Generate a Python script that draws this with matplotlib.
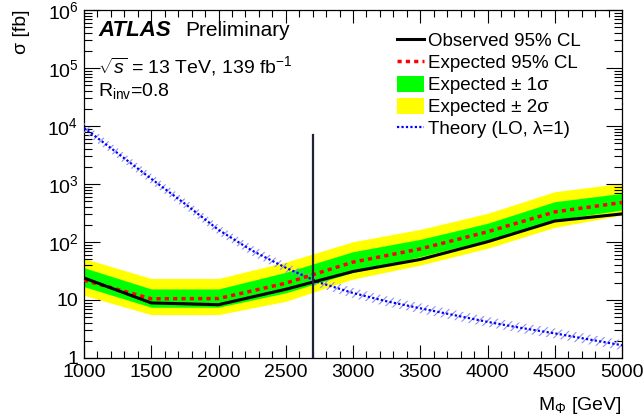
import numpy as np
import matplotlib
matplotlib.use("Agg")
import matplotlib.pyplot as plt
import matplotlib.ticker as mticker
from matplotlib.lines import Line2D
from matplotlib.patches import Patch

plt.rcParams['font.family'] = ['Liberation Sans', 'DejaVu Sans']
plt.rcParams['mathtext.fontset'] = 'custom'
plt.rcParams['mathtext.rm'] = 'Liberation Sans'
plt.rcParams['mathtext.it'] = 'Liberation Sans:italic'
plt.rcParams['mathtext.bf'] = 'Liberation Sans:bold'
plt.rcParams['hatch.linewidth'] = 0.8

# limit points (GeV, fb)
mass = [1000, 1500, 2000, 2500, 3000, 3500, 4000, 4500, 5000]
observed = [24, 8.9, 8.3, 15.3, 31, 50, 101, 230, 305]
expected = [22, 10.5, 10.6, 19.5, 45, 76, 150, 330, 480]
exp_1s_up = [36, 15.5, 15.5, 30, 68, 111, 210, 495, 690]
exp_1s_dn = [17, 7.5, 7.5, 13.3, 30, 56, 108, 240, 356]
exp_2s_up = [52, 23.5, 23.5, 45, 101, 165, 312, 736, 1030]
exp_2s_dn = [12, 5.6, 5.6, 9.5, 23, 40, 78, 179, 292]

# theory curve (LO, lambda=1)
theory_mass = [1000, 1250, 1500, 1750, 2000, 2250, 2500, 2750, 3000, 3250,
               3500, 3750, 4000, 4250, 4500, 4750, 5000]
theory_xsec = [9300, 3400, 1230, 457, 162, 71, 36, 20, 13.2, 9.5,
               7.2, 5.5, 4.2, 3.3, 2.66, 2.1, 1.66]
theory_unc = 1.22

excl_mass = 2700
excl_ymax = 7000

fig = plt.figure(figsize=(6.44, 4.18), dpi=100)
ax = fig.add_axes([84/644, 1-358/418, 538/644, 348/418])

ax.fill_between(mass, exp_2s_dn, exp_2s_up, color='#ffff00', lw=0, zorder=1)
ax.fill_between(mass, exp_1s_dn, exp_1s_up, color='#00ff00', lw=0, zorder=2)
th = np.array(theory_xsec)
ax.fill_between(theory_mass, th/theory_unc, th*theory_unc, facecolor='none',
                edgecolor='#9090f0', hatch='////', lw=0, zorder=3)
ax.plot(theory_mass, theory_xsec, color='#0000ff', lw=1.6, ls=(0, (1, 1)), zorder=4)
ax.plot(mass, expected, color='#ff0000', lw=2.5, ls=(0, (1.2, 1.2)), zorder=5)
ax.plot(mass, observed, color='black', lw=2.2, zorder=6)
ax.plot([excl_mass, excl_mass], [1, excl_ymax], color='#1e2435', lw=1.6, zorder=7)

ax.set_xlim(1000, 5000)
ax.set_ylim(1, 1e6)
ax.set_yscale('log')
ax.xaxis.set_major_locator(mticker.MultipleLocator(500))
ax.xaxis.set_minor_locator(mticker.MultipleLocator(100))
ax.yaxis.set_major_locator(mticker.LogLocator(base=10, numticks=10))
ax.yaxis.set_minor_locator(mticker.LogLocator(base=10, subs=np.arange(2, 10), numticks=10))
ax.yaxis.set_minor_formatter(mticker.NullFormatter())

def ylab(v, pos):
    if v < 1.5:
        return '1'
    if v < 15:
        return '10'
    return r'$10^{%d}$' % int(round(np.log10(v)))
ax.yaxis.set_major_formatter(mticker.FuncFormatter(ylab))

ax.tick_params(which='both', direction='in', top=True, right=True, labelsize=14, pad=4)
ax.tick_params(axis='x', which='major', length=9.5, width=0.8)
ax.tick_params(axis='x', which='minor', length=4.7, width=0.8)
ax.tick_params(axis='y', which='major', length=11.5, width=0.8)
ax.tick_params(axis='y', which='minor', length=5.8, width=0.8)
for s in ax.spines.values():
    s.set_linewidth(0.9)

fig.text(622/644, 1-406/418, r'M$_{\Phi}$ [GeV]', ha='right', va='center', fontsize=14)
fig.text(21/644, 1-9/418, 'σ [fb]', rotation=90, ha='center', va='top', fontsize=14)

fig.text(98/644, 1-31/418, 'ATLAS', fontsize=16, fontweight='bold', fontstyle='italic',
         ha='left', va='center')
fig.text(185/644, 1-31/418, 'Preliminary', fontsize=15, ha='left', va='center')
fig.text(98/644, 1-66/418, r'$\sqrt{s}$ = 13 TeV, 139 fb$^{-1}$', fontsize=14,
         ha='left', va='center')
fig.text(98/644, 1-91/418, r'R$_{\mathrm{inv}}$=0.8', fontsize=14, ha='left', va='center')

handles = [
    Line2D([], [], color='black', lw=2.2),
    Line2D([], [], color='#ff0000', lw=2.5, ls=(0, (1.2, 1.2))),
    Patch(facecolor='#00ff00', edgecolor='none'),
    Patch(facecolor='#ffff00', edgecolor='none'),
    Line2D([], [], color='#0000ff', lw=1.6, ls=(0, (1, 1))),
]
labels = ['Observed 95% CL', 'Expected 95% CL', 'Expected ± 1σ',
          'Expected ± 2σ', 'Theory (LO, λ=1)']
ax.legend(handles, labels, loc='upper left', bbox_to_anchor=(397/644, 1-32/418),
          bbox_transform=fig.transFigure, frameon=False, fontsize=13.5,
          borderaxespad=0, borderpad=0, handlelength=1.45, handletextpad=0.2,
          labelspacing=0.2, handleheight=0.9)

fig.savefig('out.png', dpi=100)
